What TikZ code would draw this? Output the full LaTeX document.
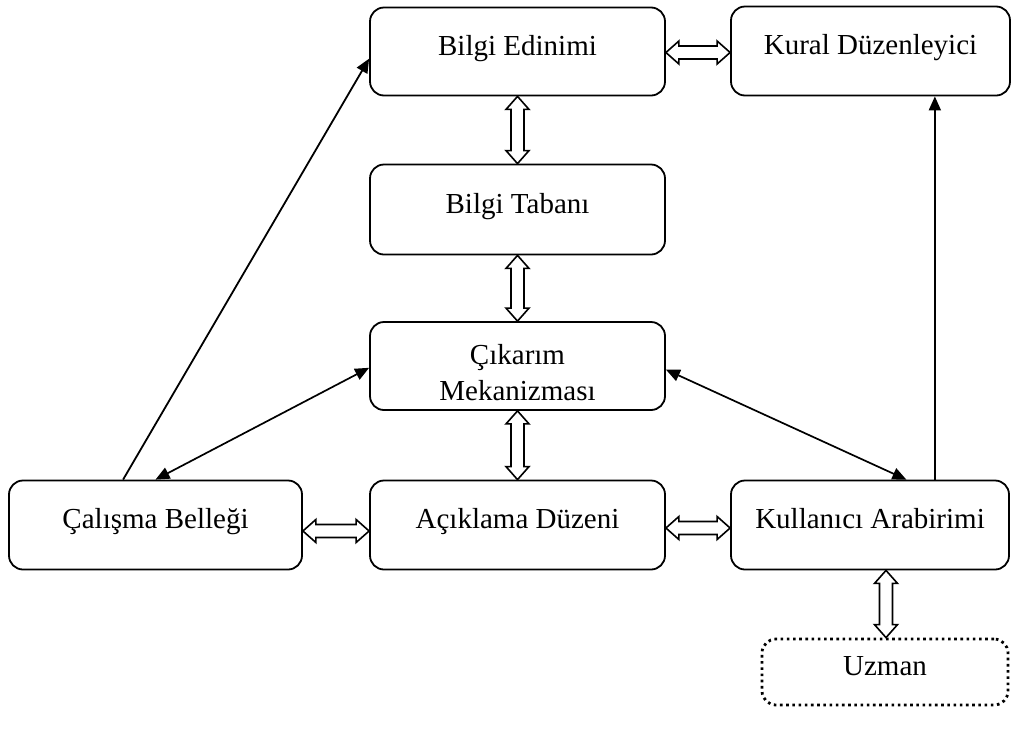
\documentclass[tikz,border=0pt]{standalone}
\usepackage{fontspec}
\setmainfont{Liberation Serif}
\usetikzlibrary{arrows.meta,calc}
% hollow two-way block arrow, horizontal (#1 left end, #2 right end)
\newcommand\hbiarrow[2]{%
  \draw[blockarrow] let \p1=(#1), \p2=(#2) in
    (\x1,\y1) -- (\x1+13pt,\y1+11.5pt) -- (\x1+13pt,\y1+6.5pt)
    -- (\x2-13pt,\y1+6.5pt) -- (\x2-13pt,\y1+11.5pt) -- (\x2,\y1)
    -- (\x2-13pt,\y1-11.5pt) -- (\x2-13pt,\y1-6.5pt)
    -- (\x1+13pt,\y1-6.5pt) -- (\x1+13pt,\y1-11.5pt) -- cycle;}
% hollow two-way block arrow, vertical (#1 upper end, #2 lower end)
\newcommand\vbiarrow[2]{%
  \draw[blockarrow] let \p1=(#1), \p2=(#2) in
    (\x1,\y1) -- (\x1+11.5pt,\y1-13pt) -- (\x1+6.5pt,\y1-13pt)
    -- (\x1+6.5pt,\y2+13pt) -- (\x1+11.5pt,\y2+13pt) -- (\x1,\y2)
    -- (\x1-11.5pt,\y2+13pt) -- (\x1-6.5pt,\y2+13pt)
    -- (\x1-6.5pt,\y1-13pt) -- (\x1-11.5pt,\y1-13pt) -- cycle;}
\begin{document}
\begin{tikzpicture}[x=1pt,y=-1pt,
  box/.style={draw,line width=1.8pt,rounded corners=14pt,inner sep=0pt,
    font=\fontsize{29}{36}\selectfont,align=center},
  oneline/.style={text height=20pt,text depth=13pt},
  label text/.style={inner sep=0pt,font=\fontsize{29}{36}\selectfont,align=center},
  dottedbox/.style={box,line width=2.8pt,dash pattern=on 2.6pt off 3.6pt},
  blockarrow/.style={draw,line width=1.6pt,fill=white,line join=miter},
  oneway/.style={line width=1.8pt,-{Triangle[length=14pt,width=12pt]}},
  twoway/.style={line width=1.7pt,{Triangle[length=14pt,width=12pt]}-{Triangle[length=14pt,width=12pt]}}]
\useasboundingbox (0,0) rectangle (1016,729);

\node[box,oneline,minimum width=295pt,minimum height=88pt] (edin) at (517.5,51.5) {Bilgi Edinimi};
\node[box,oneline,minimum width=279pt,minimum height=89pt] (kural) at (870.5,51) {Kural Düzenleyici};
\node[box,oneline,minimum width=295pt,minimum height=90pt] (taban) at (517.5,209.5) {Bilgi Tabanı};
\node[box,minimum width=295pt,minimum height=88pt] (cik) at (517.5,366) {};
\node[label text] (cikText) at ($(cik.center)+(0,7)$) {Çıkarım\\Mekanizması};
\node[box,oneline,minimum width=293pt,minimum height=89pt] (cal) at (155.5,525) {Çalışma Belleği};
\node[box,oneline,minimum width=295pt,minimum height=89pt] (acik) at (517.5,525) {Açıklama Düzeni};
\node[box,oneline,minimum width=278pt,minimum height=89pt] (kul) at (870,525) {Kullanıcı Arabirimi};
\node[dottedbox,oneline,minimum width=246pt,minimum height=66pt] (uzman) at (885,672) {Uzman};

% hollow two-way arrows between adjacent blocks
\hbiarrow{$(edin.east)+(0,1)$}{$(kural.west)+(0,1)$}
\vbiarrow{edin.south}{taban.north}
\vbiarrow{taban.south}{cik.north}
\vbiarrow{cik.south}{acik.north}
\hbiarrow{$(cal.east)+(0,6)$}{$(acik.west)+(0,6)$}
\hbiarrow{$(acik.east)+(0,3)$}{$(kul.west)+(0,3)$}
\vbiarrow{$(kul.south)+(16,0)$}{$(uzman.north)+(1,0)$}

% thin connectors
\coordinate (calA) at ($(cal.north west)!0.39!(cal.north east)$);
\coordinate (calB) at ($(cal.north west)!0.50!(cal.north east)$);
\coordinate (edinL) at ($(edin.north west)!0.58!(edin.south west)$);
\coordinate (cikL) at ($(cik.north west)!0.52!(cik.south west)$);
\coordinate (cikR) at ($(cik.north east)!0.54!(cik.south east)$);
\coordinate (kulA) at ($(kul.north west)!0.63!(kul.north east)$);
\coordinate (kulB) at ($(kul.north west)!0.73!(kul.north east)+(0.5,0)$);
\coordinate (kuralB) at (kulB |- kural.south);

\draw[oneway] (calA) -- (edinL);
\draw[twoway] (calB) -- (cikL);
\draw[twoway] (cikR) -- (kulA);
\draw[oneway] (kulB) -- (kuralB);
\end{tikzpicture}
\end{document}
